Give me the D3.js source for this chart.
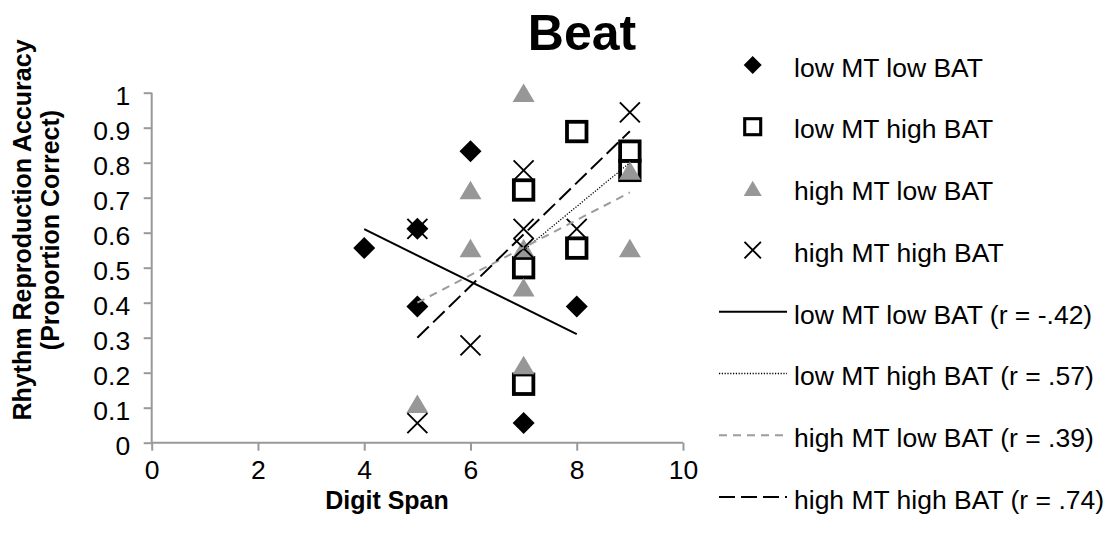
<!DOCTYPE html>
<html>
<head>
<meta charset="utf-8">
<script src="https://cdn.jsdelivr.net/npm/d3@7"></script>
<style>
  html, body { margin: 0; padding: 0; background: #fff; }
  svg { display: block; font-family: "Liberation Sans", Arial, sans-serif; }
</style>
</head>
<body>
<svg id="chart" width="1112" height="535"></svg>
<script>
// Axis ticks
const digitSpanTicks = [0, 2, 4, 6, 8, 10];
const accuracyTicks = [0, 0.1, 0.2, 0.3, 0.4, 0.5, 0.6, 0.7, 0.8, 0.9, 1];

// Groups
const groupNames = ["low MT low BAT", "low MT high BAT", "high MT low BAT", "high MT high BAT"];
const groupShapes = ["diamond", "square", "triangle", "cross"];

// Participants: digit span and proportion correct, per group
const lowLowSpan = [4, 5, 5, 6, 7, 8];
const lowLowAcc  = [0.556, 0.611, 0.389, 0.833, 0.056, 0.389];

const lowHighSpan = [7, 7, 7, 8, 8, 9, 9];
const lowHighAcc  = [0.167, 0.5, 0.722, 0.556, 0.889, 0.778, 0.833];

const highLowSpan = [5, 6, 6, 7, 7, 7, 7, 9, 9];
const highLowAcc  = [0.111, 0.722, 0.556, 1.0, 0.556, 0.444, 0.222, 0.778, 0.556];

const highHighSpan = [5, 5, 6, 7, 7, 7, 8, 9];
const highHighAcc  = [0.611, 0.056, 0.278, 0.778, 0.611, 0.556, 0.611, 0.944];

// Linear fits per group: span range and fitted accuracy at each end
const fitStartSpan = [4, 7, 5, 5];
const fitEndSpan   = [8, 9, 9, 9];
const fitStartAcc  = [0.61, 0.55, 0.40, 0.30];
const fitEndAcc    = [0.31, 0.80, 0.715, 0.89];
const fitR = ["-.42", ".57", ".39", ".74"];

const fitStyles = [
  { stroke: "#000",    width: 2,   dash: null },
  { stroke: "#000",    width: 1.3, dash: "1.2,1.6" },
  { stroke: "#9c9c9c", width: 2,   dash: "8,6" },
  { stroke: "#000",    width: 2,   dash: "16,6" }
];

const groups = [
  { span: lowLowSpan,   acc: lowLowAcc },
  { span: lowHighSpan,  acc: lowHighAcc },
  { span: highLowSpan,  acc: highLowAcc },
  { span: highHighSpan, acc: highHighAcc }
];

const svg = d3.select("#chart");
const x = d3.scaleLinear().domain([0, 10]).range([151.7, 683]);
const y = d3.scaleLinear().domain([0, 1]).range([442.7, 92.7]);

const axisGrey = "#999";
const tickFont = 26.5;

// Axes
const yAxis = svg.append("g")
  .attr("transform", `translate(${x(0)},0)`)
  .call(d3.axisLeft(y).tickValues(accuracyTicks).tickSize(8).tickPadding(13.5)
    .tickFormat(d => d === 0 || d === 1 ? String(d) : d3.format(".1f")(d)));
const xAxis = svg.append("g")
  .attr("transform", `translate(0,${y(0)})`)
  .call(d3.axisBottom(x).tickValues(digitSpanTicks).tickSize(8).tickPadding(9.5));

[yAxis, xAxis].forEach(g => {
  g.select(".domain").attr("stroke", axisGrey).attr("stroke-width", 2);
  g.selectAll(".tick line").attr("stroke", axisGrey).attr("stroke-width", 2);
  g.selectAll(".tick text").attr("fill", "#000")
    .style("font-size", tickFont + "px")
    .style("font-family", "'Liberation Sans', Arial, sans-serif");
});
yAxis.selectAll(".tick text").attr("dy", "0.45em");
xAxis.select(".domain").attr("d", `M${x(0)},0H${x(10)}`);
yAxis.select(".domain").attr("d", `M0,${y(0)}V${y(1)}`);

// Marker shapes
function drawMarker(g, shape, s) {
  if (shape === "diamond") {
    const h = 11 * s;
    g.append("path").attr("d", `M0,${-h}L${h},0L0,${h}L${-h},0Z`).attr("fill", "#000");
  } else if (shape === "square") {
    const a = 19.5 * s;
    g.append("rect").attr("x", -a / 2).attr("y", -a / 2).attr("width", a).attr("height", a)
      .attr("fill", "#fff").attr("stroke", "#000").attr("stroke-width", 3.8 * s);
  } else if (shape === "triangle") {
    const w = 22 * s, h = 18.5 * s;
    g.append("path").attr("d", `M0,${-h / 2}L${w / 2},${h / 2}L${-w / 2},${h / 2}Z`).attr("fill", "#979797");
  } else {
    const r = 10 * s;
    g.append("path").attr("d", `M${-r},${-r}L${r},${r}M${-r},${r}L${r},${-r}`)
      .attr("stroke", "#000").attr("stroke-width", 1.9).attr("fill", "none");
  }
}

// Points
const plot = svg.append("g");
groups.forEach((grp, gi) => {
  const pts = grp.span.map((s, i) => ({ span: s, acc: grp.acc[i] }));
  plot.append("g").selectAll("g").data(pts).join("g")
    .attr("transform", d => `translate(${x(d.span)},${y(d.acc)})`)
    .each(function () { drawMarker(d3.select(this), groupShapes[gi], 1); });
});

// Fit lines
const fits = groupNames.map((n, i) => ({
  x0: fitStartSpan[i], x1: fitEndSpan[i], y0: fitStartAcc[i], y1: fitEndAcc[i], style: fitStyles[i]
}));
svg.append("g").selectAll("line").data(fits).join("line")
  .attr("x1", d => x(d.x0)).attr("y1", d => y(d.y0))
  .attr("x2", d => x(d.x1)).attr("y2", d => y(d.y1))
  .attr("stroke", d => d.style.stroke)
  .attr("stroke-width", d => d.style.width)
  .attr("stroke-dasharray", d => d.style.dash);

// Titles
svg.append("text").attr("x", 582).attr("y", 50).attr("text-anchor", "middle")
  .style("font-size", "50px").style("font-weight", "bold").text("Beat");
svg.append("text").attr("x", 387).attr("y", 509).attr("text-anchor", "middle")
  .style("font-size", "25px").style("font-weight", "bold").text("Digit Span");
const yTitle = svg.append("g").attr("transform", "translate(0,230) rotate(-90)");
yTitle.append("text").attr("x", 0).attr("y", 31).attr("text-anchor", "middle")
  .style("font-size", "25px").style("font-weight", "bold").text("Rhythm Reproduction Accuracy");
yTitle.append("text").attr("x", 0).attr("y", 59).attr("text-anchor", "middle")
  .style("font-size", "25px").style("font-weight", "bold").text("(Proportion Correct)");

// Legend
const legendTop = 65, legendStep = 61.7, legendSymX = 752.7, legendTextX = 794;
const legend = svg.append("g");
groupNames.forEach((name, i) => {
  const row = legend.append("g").attr("transform", `translate(0,${legendTop + i * legendStep})`);
  drawMarker(row.append("g").attr("transform", `translate(${legendSymX},0)`), groupShapes[i], 0.82);
  row.append("text").attr("x", legendTextX).attr("y", 11.7).style("font-size", tickFont + "px").text(name);
});
groupNames.forEach((name, i) => {
  const row = legend.append("g").attr("transform", `translate(0,${legendTop + (i + 4) * legendStep})`);
  const st = fitStyles[i];
  row.append("line").attr("x1", 719).attr("x2", 787).attr("y1", 0).attr("y2", 0)
    .attr("stroke", st.stroke).attr("stroke-width", st.width).attr("stroke-dasharray", st.dash);
  row.append("text").attr("x", legendTextX).attr("y", 11.7).style("font-size", tickFont + "px")
    .text(`${name} (r = ${fitR[i]})`);
});
</script>
</body>
</html>
